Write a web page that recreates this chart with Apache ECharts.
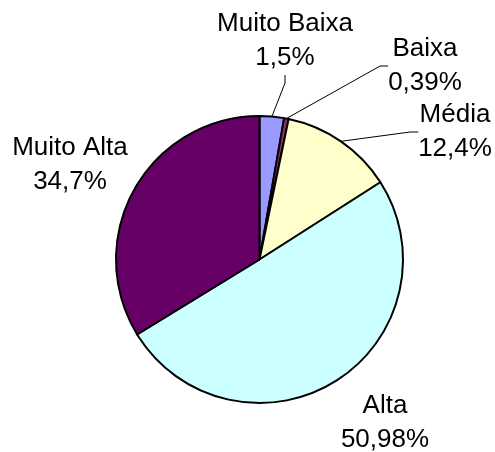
<!DOCTYPE html>
<html><head><meta charset="utf-8">
<script src="https://cdn.jsdelivr.net/npm/echarts@6/dist/echarts.min.js"></script>
<style>html,body{margin:0;padding:0;background:#fff}#c{width:495px;height:452px}</style>
</head><body><div id="c"></div>
<script>
// Categories (clockwise from 12 o'clock)
const categories = ['Muito Baixa', 'Baixa', 'Média', 'Alta', 'Muito Alta'];
// Slice shares as drawn in the picture (percent of the circle)
const drawnShares = [2.75, 0.5, 12.7, 50.3, 33.75];
// Percentage labels as printed in the picture
const percentLabels = ['1,5%', '0,39%', '12,4%', '50,98%', '34,7%'];
const colors = ['#9999FF', '#993366', '#FFFFCC', '#CCFFFF', '#660066'];
const showLeader = [true, true, true, false, false];
// label block centres (layout only)
const labelPos = [[285, 41], [425, 66], [455, 132], [385, 423], [70, 165]];

const chart = echarts.init(document.getElementById('c'), null, {renderer: 'canvas'});
chart.setOption({
  animation: false,
  backgroundColor: '#ffffff',
  series: [{
    type: 'pie',
    center: [259.5, 259.5],
    radius: [0, 143.5],
    startAngle: 90,
    clockwise: true,
    avoidLabelOverlap: false,
    itemStyle: {borderColor: '#000', borderWidth: 2},
    label: {
      show: true,
      position: 'outside',
      formatter: p => p.name + '\n' + percentLabels[p.dataIndex],
      fontFamily: 'Liberation Sans, Arial, sans-serif',
      fontSize: 26,
      lineHeight: 34,
      color: '#000',
      align: 'center'
    },
    labelLine: {show: true, length: 20, length2: 8, lineStyle: {color: '#000', width: 1}},
    labelLayout: function (p) {
      const pos = labelPos[p.dataIndex];
      return {x: pos[0], y: pos[1], align: 'center', verticalAlign: 'middle'};
    },
    data: categories.map((c, i) => ({
      name: c,
      value: drawnShares[i],
      itemStyle: {color: colors[i]},
      labelLine: {show: showLeader[i]}
    }))
  }]
});
</script></body></html>
